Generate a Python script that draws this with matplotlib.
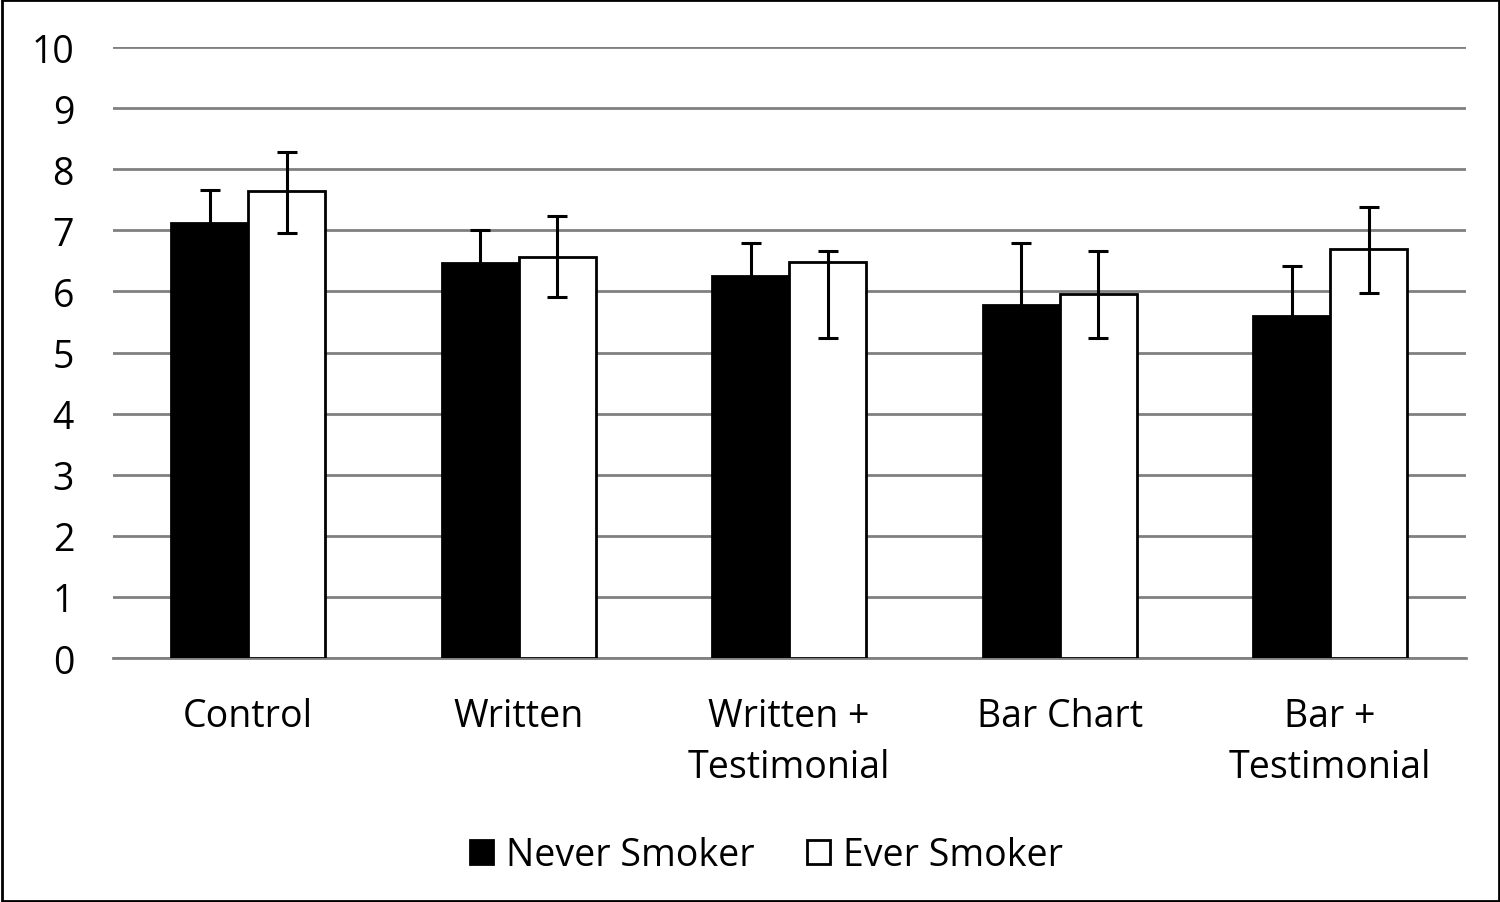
import matplotlib.pyplot as plt
import numpy as np
from matplotlib.patches import Rectangle

# --- Data ---
groepen = ["Control", "Written", "Written +\nTestimonial", "Bar Chart", "Bar +\nTestimonial"]
never = [7.12, 6.46, 6.26, 5.78, 5.59]
never_err = [0.54, 0.55, 0.53, 1.01, 0.83]
ever = [7.64, 6.57, 6.48, 5.96, 6.69]
ever_err_laag = [0.69, 0.66, 1.24, 0.72, 0.71]
ever_err_hoog = [0.65, 0.67, 0.18, 0.70, 0.70]
yticks = list(range(0, 11))

plt.rcParams['font.family'] = ['Open Sans', 'DejaVu Sans']

fig = plt.figure(figsize=(15, 9.03), dpi=100)
ax = fig.add_axes([0.0753, 0.2702, 0.9017, 0.6766])

x = np.arange(len(groepen))
w = 0.285
ax.bar(x - w / 2, never, w, color='black', edgecolor='black', linewidth=2,
       yerr=never_err, error_kw=dict(ecolor='black', elinewidth=2.2, capsize=7, capthick=2.2),
       label="Never Smoker", zorder=3)
ax.bar(x + w / 2, ever, w, color='white', edgecolor='black', linewidth=2,
       yerr=[ever_err_laag, ever_err_hoog],
       error_kw=dict(ecolor='black', elinewidth=2.2, capsize=7, capthick=2.2),
       label="Ever Smoker", zorder=3)

ax.set_xlim(-0.5, len(groepen) - 0.5)
ax.set_ylim(0, 10)
ax.set_yticks(yticks)
ax.set_xticks(x)
ax.set_xticklabels(groepen, fontsize=27, linespacing=1.45)
ax.tick_params(axis='y', labelsize=27, length=0, pad=28)
ax.tick_params(axis='x', length=0, pad=28)
ax.yaxis.grid(True, color='#808080', linewidth=2, zorder=0)
for s in ['top', 'right', 'left']:
    ax.spines[s].set_visible(False)
ax.spines['bottom'].set_color('#808080')
ax.spines['bottom'].set_linewidth(2)

leg = fig.legend(loc='center', bbox_to_anchor=(0.511, 0.052), ncol=2, frameon=False,
                 fontsize=27, handlelength=0.6, handleheight=0.6, handletextpad=0.35,
                 columnspacing=1.4)

fig.patches.append(Rectangle((0.001, 0.001), 0.998, 0.998, transform=fig.transFigure,
                             fill=False, edgecolor='black', linewidth=2))

fig.savefig("out.png", dpi=100)
